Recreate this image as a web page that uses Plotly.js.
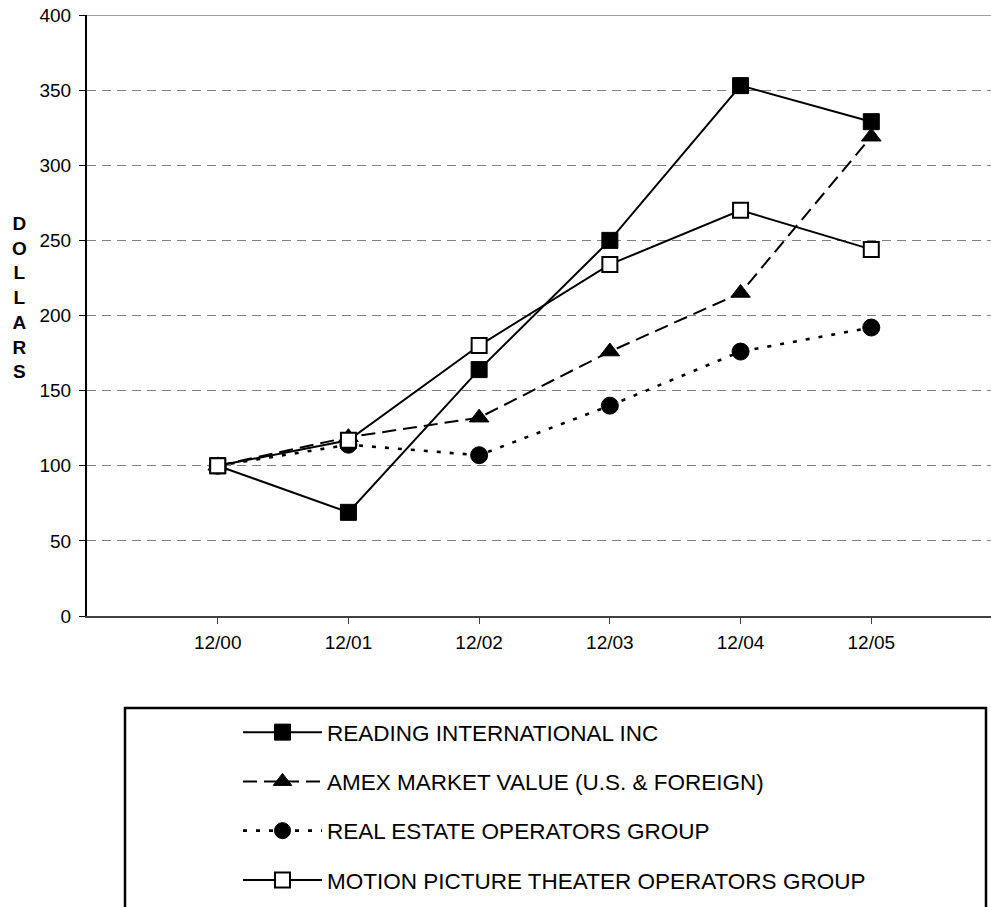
<!DOCTYPE html>
<html>
<head>
<meta charset="utf-8">
<script src="https://cdn.plot.ly/plotly-3.0.1.min.js"></script>
<style>
html, body { margin: 0; padding: 0; overflow: hidden; background: #fff; }
#chart { width: 1003px; height: 907px; }
</style>
</head>
<body>
<div id="chart"></div>
<script>
// ---- data ----
var categories = ['12/00', '12/01', '12/02', '12/03', '12/04', '12/05'];
var readingIntl = [100, 69, 164, 250, 353, 329];
var amexMarket = [100, 119, 132, 176, 215, 319];
var realEstate = [100, 114, 107, 140, 176, 192];
var motionPicture = [100, 117, 180, 234, 270, 244];
var seriesNames = [
  'READING INTERNATIONAL INC',
  'AMEX MARKET VALUE (U.S. & FOREIGN)',
  'REAL ESTATE OPERATORS GROUP',
  'MOTION PICTURE THEATER OPERATORS GROUP'
];
var yTitleLetters = ['D', 'O', 'L', 'L', 'A', 'R', 'S'];

var FONT = 'Liberation Sans, Arial, Helvetica, sans-serif';

var traces = [
  {
    x: categories, y: readingIntl, name: seriesNames[0], legendgroup: 'g1',
    type: 'scatter', mode: 'lines+markers',
    line: { color: '#000', width: 2, dash: 'solid' },
    marker: { symbol: 'square', size: 16, color: '#000', line: { color: '#000', width: 1 } }
  },
  {
    x: categories, y: amexMarket, name: seriesNames[1], legendgroup: 'g2',
    type: 'scatter', mode: 'lines+markers',
    line: { color: '#000', width: 2, dash: '14px,7px' },
    marker: { symbol: 'triangle-up', size: 17, color: '#000', line: { color: '#000', width: 1 } }
  },
  {
    x: categories, y: realEstate, name: seriesNames[2], legendgroup: 'g3',
    type: 'scatter', mode: 'lines+markers',
    line: { color: '#000', width: 2.6, dash: '4px,9px' },
    marker: { symbol: 'circle', size: 17, color: '#000', line: { color: '#000', width: 1 } }
  },
  {
    x: categories, y: motionPicture, name: seriesNames[3], legendgroup: 'g4',
    type: 'scatter', mode: 'lines+markers',
    line: { color: '#000', width: 2, dash: 'solid' },
    marker: { symbol: 'square', size: 15, color: '#fff', line: { color: '#000', width: 2 } }
  }
];

// plot area geometry in pixels (used only to place legend / box)
var L = 87, T = 15, W = 915, H = 601;
function px(xp) { return (xp - L) / W; }
function py(yp) { return (T + H - yp) / H; }

var layout = {
  width: 1003, height: 907,
  margin: { l: L, r: 1003 - L - W, t: T, b: 907 - T - H, pad: 0, autoexpand: false },
  paper_bgcolor: '#fff', plot_bgcolor: '#fff',
  font: { family: FONT, color: '#000', size: 18 },
  showlegend: true,
  xaxis: {
    type: 'category',
    range: [-1, 6],
    showline: true, linecolor: '#404040', linewidth: 2,
    ticks: 'outside', ticklen: 6, tickwidth: 1, tickcolor: '#404040',
    ticklabelstandoff: 2,
    showgrid: false, zeroline: false, automargin: false,
    tickfont: { family: FONT, size: 19, color: '#000' },
    fixedrange: true
  },
  yaxis: {
    range: [0, 400], dtick: 50, tick0: 0,
    showline: true, linecolor: '#000', linewidth: 2,
    ticks: 'outside', ticklen: 6, tickwidth: 1, tickcolor: '#000',
    ticklabelstandoff: 4,
    showgrid: true, gridcolor: '#808080', gridwidth: 1, griddash: '9px,6px',
    zeroline: false, automargin: false,
    tickfont: { family: FONT, size: 19, color: '#000' },
    fixedrange: true
  },
  legend: {
    x: px(238), xanchor: 'left',
    y: py(711), yanchor: 'top',
    bgcolor: 'rgba(0,0,0,0)', borderwidth: 0,
    font: { family: FONT, size: 22.5, color: '#000' },
    itemwidth: 79,
    tracegroupgap: 17,
    traceorder: 'grouped'
  },
  shapes: [
    { type: 'line', xref: 'paper', yref: 'y', x0: 0, x1: 1, y0: 400, y1: 400,
      line: { color: '#808080', width: 1.5 }, layer: 'above' },
    { type: 'rect', xref: 'paper', yref: 'paper',
      x0: px(125), x1: px(986), y0: py(708), y1: py(930),
      line: { color: '#000', width: 2.5 }, fillcolor: 'rgba(0,0,0,0)' }
  ],
  annotations: [
    { xref: 'paper', yref: 'paper', x: px(19), y: py(297),
      xanchor: 'center', yanchor: 'middle', showarrow: false,
      text: yTitleLetters.join('<br>'),
      font: { family: FONT, size: 19, weight: 'bold', color: '#000' } }
  ]
};

Plotly.newPlot('chart', traces, layout, { displayModeBar: false, staticPlot: true });
</script>
</body>
</html>
